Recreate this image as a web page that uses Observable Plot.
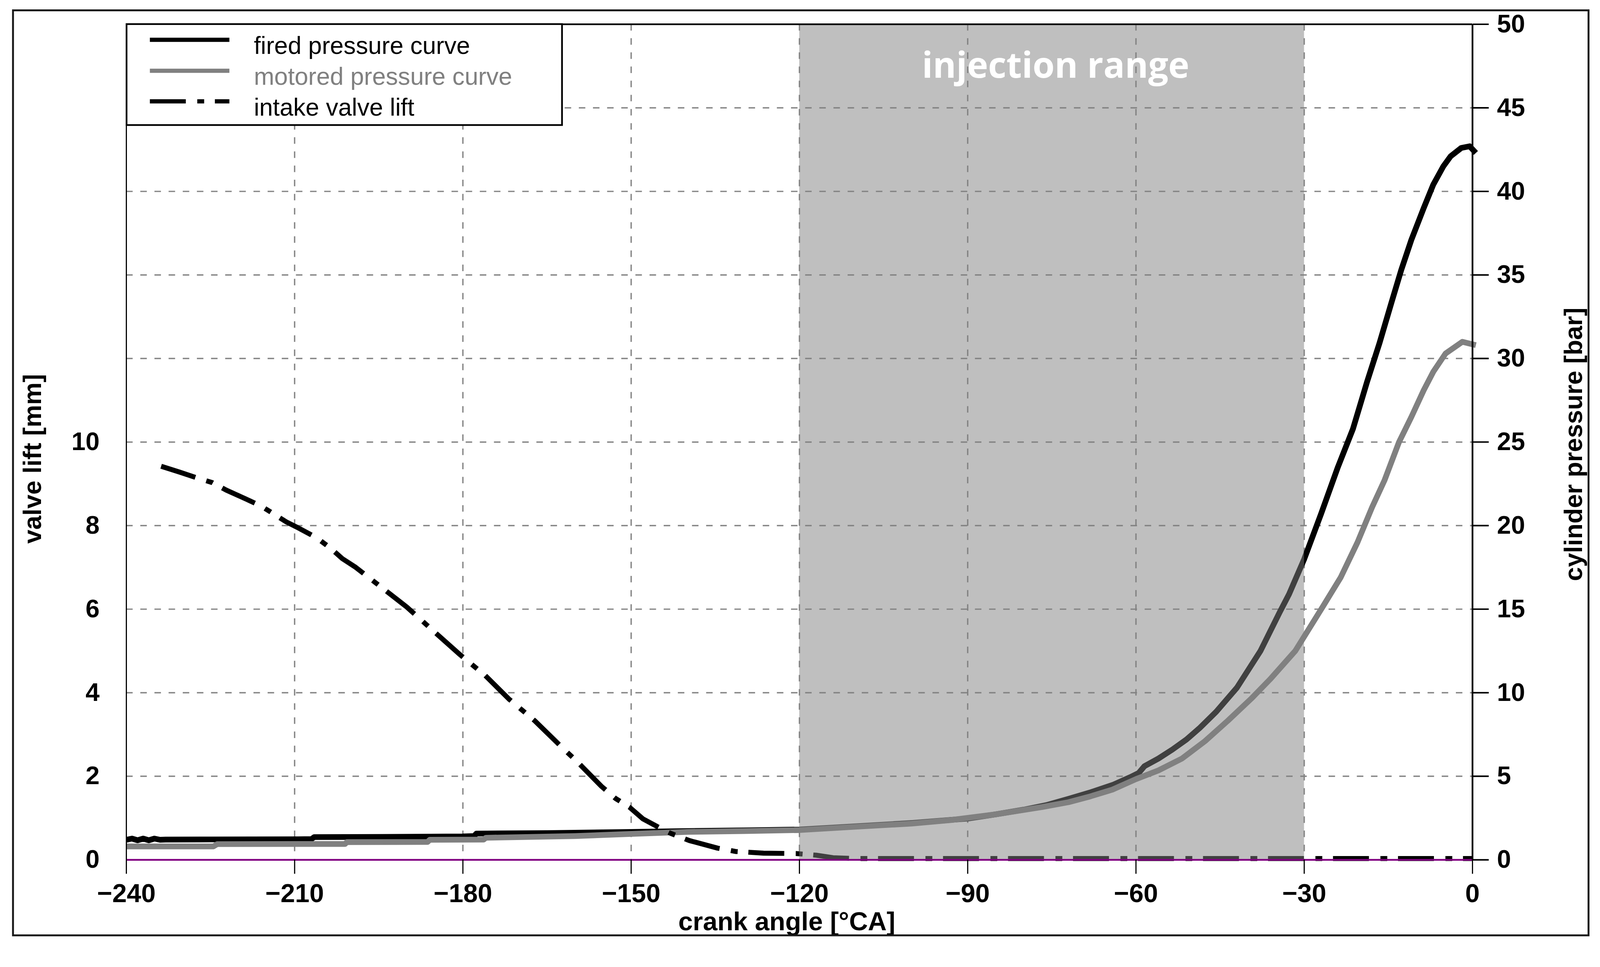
<!DOCTYPE html>
<html>
<head>
<meta charset="utf-8">
<script src="https://cdn.jsdelivr.net/npm/d3@7"></script>
<script src="https://cdn.jsdelivr.net/npm/@observablehq/plot@0.6"></script>
<style>
  html, body { margin: 0; padding: 0; background: #ffffff; }
  svg { display: block; }
</style>
</head>
<body>
<div id="chart"></div>
<script>
// ---------- tick labels ----------
const angleTicks = [-240, -210, -180, -150, -120, -90, -60, -30, 0];
const pressureTicks = [0, 5, 10, 15, 20, 25, 30, 35, 40, 45, 50];
const liftTicks = [0, 2, 4, 6, 8, 10];

// ---------- fired pressure curve [bar] ----------
const firedAngle = [-240, -239, -238, -237, -236, -235, -234, -233, -225, -210, -207, -206.5, -195, -180, -178, -177.6, -165, -150, -140, -130, -120, -110, -100, -90, -85, -80, -76, -72, -68, -64, -61, -59.5, -58.5, -56, -53.5, -51, -48.6, -45.7, -42, -37.8, -34.4, -32.7, -30, -27, -24, -21.3, -18.8, -16.6, -14.4, -12.7, -10.9, -8.7, -7, -5.2, -3.9, -2, -0.5, 0.6];
const firedPressure = [1.2, 1.27, 1.17, 1.27, 1.17, 1.27, 1.2, 1.21, 1.22, 1.23, 1.24, 1.36, 1.37, 1.4, 1.42, 1.57, 1.6, 1.67, 1.72, 1.76, 1.81, 2.0, 2.2, 2.47, 2.72, 3.0, 3.27, 3.65, 4.05, 4.5, 4.95, 5.2, 5.6, 6.06, 6.6, 7.2, 7.9, 8.86, 10.3, 12.5, 14.8, 15.9, 18.0, 20.7, 23.5, 25.8, 28.6, 30.9, 33.4, 35.3, 37.1, 39.0, 40.4, 41.5, 42.1, 42.6, 42.7, 42.3];

// ---------- motored pressure curve [bar] ----------
const motoredAngle = [-240, -224.5, -223.8, -201, -200.7, -186.3, -185.9, -176.3, -175.9, -160, -150, -140, -130, -120, -110, -100, -93, -85, -76.7, -72, -68.4, -64.2, -60, -56, -51.8, -47.7, -43.6, -39.4, -36.1, -31.6, -26.6, -23.5, -20.5, -17.9, -15.7, -13.1, -10.9, -8.7, -7, -4.8, -1.8, 0.6];
const motoredPressure = [0.8, 0.8, 0.94, 0.95, 1.06, 1.07, 1.2, 1.21, 1.32, 1.42, 1.55, 1.67, 1.72, 1.78, 1.98, 2.17, 2.38, 2.72, 3.16, 3.45, 3.77, 4.2, 4.83, 5.35, 6.06, 7.1, 8.33, 9.66, 10.8, 12.5, 15.2, 16.9, 19.0, 21.1, 22.7, 25.0, 26.5, 28.1, 29.2, 30.3, 31.0, 30.8];

// ---------- intake valve lift [mm] ----------
const liftAngle = [-233.8, -230.5, -227.6, -224.7, -222.2, -218.9, -216, -213.5, -211.5, -209, -206.1, -203.6, -201.5, -199.1, -194.1, -190, -185.1, -180.5, -176, -171.8, -167.2, -162.7, -159.4, -155.3, -152.8, -150.3, -147.9, -145.4, -142.9, -139.6, -134.6, -131.4, -126.4, -120.6, -117, -114, -110, -60, 0];
const liftValue = [9.42, 9.28, 9.15, 9.03, 8.85, 8.65, 8.47, 8.26, 8.09, 7.92, 7.71, 7.46, 7.21, 7.0, 6.48, 6.05, 5.46, 4.91, 4.41, 3.85, 3.33, 2.74, 2.32, 1.76, 1.47, 1.26, 0.98, 0.8, 0.63, 0.46, 0.28, 0.2, 0.16, 0.15, 0.11, 0.05, 0.03, 0.03, 0.03];

// ---------- injection range ----------
const injectionStart = [-120];
const injectionEnd = [-30];
const injectionLabel = ["injection range"];

// ---------- legend ----------
const legendLabels = ["fired pressure curve", "motored pressure curve", "intake valve lift"];

// ---------- tables built from the arrays ----------
const fired = firedAngle.map((a, i) => ({angle: a, p: firedPressure[i]}));
const motored = motoredAngle.map((a, i) => ({angle: a, p: motoredPressure[i]}));
const lift = liftAngle.map((a, i) => ({angle: a, lift: liftValue[i]}));
const injection = injectionStart.map((s, i) => ({start: s, end: injectionEnd[i], label: injectionLabel[i]}));

const LIFT_TO_BAR = 2.5; // 20 mm on left axis spans the 50 bar right axis
const minus = d => d < 0 ? "\u2212" + Math.abs(d) : String(d);
const FONT = "'Liberation Sans', Arial, Helvetica, sans-serif";
const gridStyle = {stroke: "#858585", strokeOpacity: 1, strokeWidth: 3.5, strokeDasharray: "17,20"};
const DASHDOT = "94,30,18,28";

const chart = Plot.plot({
  width: 4185,
  height: 2475,
  marginTop: 63,
  marginRight: 334,
  marginBottom: 227,
  marginLeft: 330,
  x: {domain: [-240, 0]},
  y: {domain: [0, 50]},
  style: {fontFamily: FONT, background: "#ffffff", overflow: "visible"},
  marks: [
    Plot.gridY(pressureTicks.filter(d => d > 0 && d < 50), gridStyle),
    Plot.gridX(angleTicks.filter(d => d > -240 && d < 0), gridStyle),
    Plot.line(fired, {x: "angle", y: "p", stroke: "#000000", strokeWidth: 15, strokeLinecap: "butt"}),
    Plot.line(motored, {x: "angle", y: "p", stroke: "#808080", strokeWidth: 15, strokeLinecap: "butt"}),
    Plot.line(lift, {x: "angle", y: d => d.lift * LIFT_TO_BAR, stroke: "#000000", strokeWidth: 13,
      strokeDasharray: DASHDOT, strokeLinecap: "butt"}),
    Plot.rect(injection, {x1: "start", x2: "end", fill: "#808080", fillOpacity: 0.5}),
    Plot.ruleY([0], {stroke: "#800080", strokeWidth: 4.5}),
    Plot.ruleX([-240], {stroke: "#000000", strokeWidth: 3}),
    Plot.ruleX([0], {stroke: "#000000", strokeWidth: 4.5}),
    Plot.ruleY([50], {stroke: "#000000", strokeWidth: 4.5}),
    Plot.axisX(angleTicks, {anchor: "bottom", label: null, tickSize: 37, tickPadding: 25,
      tickFormat: minus, fontSize: 68, fontWeight: "bold", fill: "#000", stroke: "#000", strokeWidth: 3}),
    Plot.axisY(liftTicks.map(d => d * LIFT_TO_BAR), {anchor: "left", label: null, tickSize: 0, tickPadding: 70,
      tickFormat: d => String(d / LIFT_TO_BAR), fontSize: 66, fontWeight: "bold", fill: "#000"}),
    Plot.axisY(pressureTicks, {anchor: "right", label: null, tickSize: 42, tickPadding: 22,
      fontSize: 66, fontWeight: "bold", fill: "#000", stroke: "#000", strokeWidth: 4}),
    Plot.text(injection, {x: d => (d.start + d.end) / 2, text: "label", frameAnchor: "top", dy: 110, dx: 10,
      lineAnchor: "middle", textAnchor: "middle",
      fill: "#ffffff", fontSize: 93, fontWeight: "bold", fontFamily: "'Open Sans', sans-serif"}),
    Plot.text(["crank angle [°CA]"], {frameAnchor: "bottom", dx: -33, dy: 162, lineAnchor: "middle", textAnchor: "middle",
      fontSize: 68, fontWeight: "bold", fill: "#000"}),
    Plot.text(["valve lift [mm]"], {frameAnchor: "left", dx: -244, dy: 44, rotate: -90, lineAnchor: "middle", textAnchor: "middle",
      fontSize: 66, fontWeight: "bold", fill: "#000"}),
    Plot.text(["cylinder pressure [bar]"], {frameAnchor: "right", dx: 265, dy: 6, rotate: -90, lineAnchor: "middle", textAnchor: "middle",
      fontSize: 66, fontWeight: "bold", fill: "#000"})
  ]
});

document.getElementById("chart").appendChild(chart);

// ---------- legend and outer frame ----------
const svg = d3.select(chart);
const lg = svg.append("g").attr("class", "legend").attr("text-anchor", "start");
lg.append("rect").attr("x", 331).attr("y", 63).attr("width", 1139).attr("height", 264)
  .attr("fill", "#ffffff").attr("stroke", "#000000").attr("stroke-width", 4.5);
const legendStyles = [
  {stroke: "#000000", dash: null, text: "#000000"},
  {stroke: "#808080", dash: null, text: "#808080"},
  {stroke: "#000000", dash: DASHDOT, text: "#000000"}
];
const rowY = [104, 185, 265];
legendLabels.forEach((label, i) => {
  const s = legendStyles[i];
  const ln = lg.append("line").attr("x1", 392).attr("x2", 600).attr("y1", rowY[i]).attr("y2", rowY[i])
    .attr("stroke", s.stroke).attr("stroke-width", 11).attr("stroke-linecap", "butt");
  if (s.dash) ln.attr("stroke-dasharray", s.dash);
  lg.append("text").attr("x", 664).attr("y", rowY[i] + 37).attr("fill", s.text)
    .attr("text-anchor", "start").attr("font-family", FONT).attr("font-size", 64).text(label);
});
svg.append("rect").attr("x", 34).attr("y", 27).attr("width", 4121).attr("height", 2419)
  .attr("fill", "none").attr("stroke", "#1a1a1a").attr("stroke-width", 5);
</script>
</body>
</html>
